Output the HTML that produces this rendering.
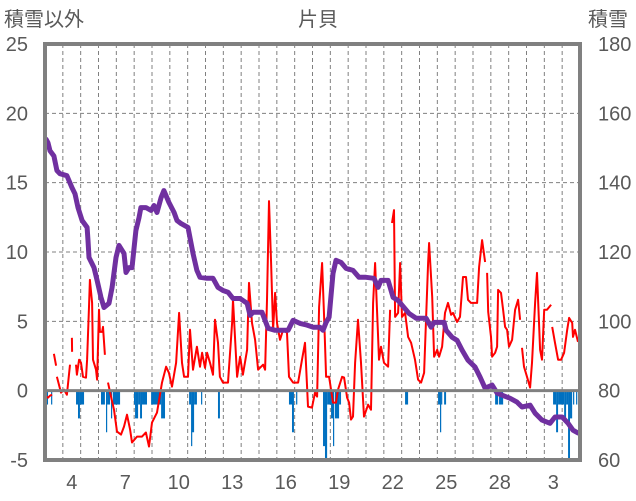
<!DOCTYPE html>
<html><head><meta charset="utf-8">
<style>
html,body{margin:0;padding:0;background:#fff;}
svg{display:block;font-family:"Liberation Sans","Noto Sans CJK JP",sans-serif;}
</style></head>
<body>
<svg id="chart" width="636" height="501" viewBox="0 0 636 501">
<text x="4" y="26" font-size="20" fill="#595959">積雪以外</text>
<text x="318" y="26" font-size="20" fill="#595959" text-anchor="middle">片貝</text>
<text x="588" y="26" font-size="20" fill="#595959">積雪</text>
<g id="grid"></g>
<g id="bars"></g>
<g id="lines"></g>
<g id="frame"></g>
<g id="ticks"></g>
</svg>
<script>
// ---- data ----
const leftTicks = [25,20,15,10,5,0,-5];
const rightTicks = [180,160,140,120,100,80,60];
const xTickLabels = ["4","7","10","13","16","19","22","25","28","3"];
const xTickDays = [1.5,4.5,7.5,10.5,13.5,16.5,19.5,22.5,25.5,28.5];
// temperature (left axis): time in days since start, value; null = gap
const tempT = [0.06,0.17,0.28,0.39,null,0.5,0.62,null,0.67,0.9,1.07,1.23,1.4,null,1.51,1.52,null,
1.74,1.79,1.91,2.02,2.13,2.3,2.36,2.47,2.52,2.64,2.69,2.86,2.92,3.03,3.08,3.2,3.25,3.36,null,
3.53,3.7,3.87,4.04,4.26,4.43,4.6,4.77,4.88,5.16,5.44,5.66,5.83,6.0,6.28,6.56,6.79,6.95,7.12,7.35,7.52,7.68,7.8,8.02,8.13,8.3,8.52,8.69,8.81,8.97,9.09,9.25,9.42,9.53,9.7,9.81,9.98,10.26,10.49,10.54,10.77,10.94,11.1,11.33,11.44,11.61,11.78,11.95,12.23,12.34,12.45,12.56,12.68,12.79,12.9,13.01,13.18,13.35,13.57,13.68,13.91,14.19,14.41,14.58,14.75,14.97,15.14,15.26,15.37,15.54,15.65,15.76,15.93,16.15,16.32,16.43,16.66,16.77,16.94,17.05,17.16,17.27,17.39,17.55,17.72,17.89,18.12,18.28,18.4,18.51,18.68,18.73,18.84,19.01,19.24,19.35,null,
19.46,19.57,19.63,19.8,19.91,20.02,20.19,20.36,20.53,20.75,20.92,21.09,21.26,21.48,21.54,21.71,21.82,21.99,22.1,22.27,22.43,22.6,22.77,22.88,23.11,23.27,23.44,23.61,23.72,23.89,24.06,24.23,24.34,24.51,24.68,null,
24.79,24.85,25.01,25.07,25.24,25.35,25.41,25.57,25.69,25.8,25.91,26.02,26.19,26.36,26.53,26.64,null,
26.75,26.86,27.03,27.2,27.31,27.48,27.59,27.76,27.87,27.99,28.15,28.38,null,
28.44,28.6,28.77,28.94,29.11,29.28,29.39,29.56,29.61,29.72,29.89];
const tempV = [-0.43,-0.5,-0.36,-0.29,null,2.66,1.8,null,1.0,-0.14,0.07,-0.29,1.87,null,3.81,2.8,null,
1.87,1.15,2.23,2.01,1.0,0.94,2.23,6.04,7.99,6.33,2.23,1.51,0.79,5.83,4.24,4.24,4.6,2.59,null,
0.58,-0.43,-1.37,-2.95,-3.17,-2.59,-1.73,-2.81,-3.74,-3.31,-3.31,-3.02,-4.03,-2.3,-1.58,0.58,1.73,1.29,0.29,2.01,5.61,2.01,1.0,1.0,4.39,1.51,3.17,1.73,2.73,1.65,2.73,2.01,1.15,5.11,3.45,1.0,0.58,0.58,4.89,6.55,1.0,2.45,1.15,2.95,7.77,4.89,3.67,1.51,1.87,1.51,6.55,13.67,9.21,4.39,7.05,4.89,3.67,4.39,4.17,1.0,0.58,0.58,2.23,3.45,-1.15,-1.22,-0.14,-0.43,6.04,9.21,5.32,1.0,1.0,-0.86,-0.86,0.07,1.0,0.94,-0.5,-0.86,-2.09,-1.87,2.01,5.11,2.01,-1.87,-1.01,-1.37,6.33,9.21,3.88,2.23,3.17,2.01,1.73,5.83,null,
12.09,13.02,5.32,5.61,9.21,5.32,5.61,3.88,3.45,2.23,0.79,0.58,1.29,9.21,10.65,6.76,2.45,2.95,2.45,3.17,5.61,6.33,5.47,5.61,4.96,5.32,8.2,8.2,6.55,6.33,6.33,6.33,8.92,10.86,9.28,null,
8.49,5.68,3.88,2.45,2.73,3.17,7.27,7.05,5.83,4.6,4.39,3.17,3.67,5.83,6.55,5.11,null,
3.09,1.73,1.0,0.22,2.01,6.33,8.49,2.95,2.23,5.83,5.83,6.19,null,
4.6,3.45,2.23,2.23,2.73,4.39,5.25,4.89,3.88,4.39,3.52];
// snow depth (right axis)
const snowT = [0.06,0.17,0.28,0.5,0.67,0.84,1.23,1.51,1.68,1.85,2.08,2.36,2.41,2.47,2.75,2.92,3.14,3.31,3.59,3.76,3.98,4.15,4.43,4.54,4.71,4.88,5.1,5.27,5.38,5.66,5.95,6.11,6.28,6.51,6.67,6.95,7.24,7.4,7.63,8.02,8.3,8.52,8.69,9.09,9.42,9.7,9.98,10.26,10.54,10.94,11.33,11.5,11.67,12.17,12.51,12.9,13.63,13.91,14.3,14.69,15.03,15.42,15.59,15.76,15.93,16.15,16.32,16.6,16.88,17.27,17.61,18.0,18.45,18.68,18.84,19.24,19.52,19.8,20.13,20.41,20.81,21.37,21.65,21.82,22.38,22.49,22.83,23.11,23.39,23.72,24.12,24.4,24.68,25.07,25.35,25.63,26.08,26.47,26.75,27.2,27.48,27.87,28.32,28.6,29.0,29.33,29.61,29.89];
const snowV = [152.5,151.5,149.2,147.7,143.5,142.6,142.0,138.6,136.8,132.8,129.1,127.1,123.3,118.4,115.5,111.8,106.9,104.0,105.2,109.8,118.4,121.9,119.6,114.1,115.5,115.5,126.2,129.9,132.8,132.8,132.0,133.4,131.4,135.7,137.7,134.3,131.4,129.1,128.2,127.1,119.6,114.7,112.7,112.4,112.4,109.8,108.9,108.4,106.6,106.6,105.2,101.7,102.6,102.6,98.0,97.4,97.4,100.3,99.4,98.9,98.3,98.3,97.4,99.7,101.2,113.8,117.6,117.0,115.3,114.7,112.7,112.7,112.4,109.8,111.8,111.8,106.9,106.0,104.0,102.3,100.9,100.9,98.3,99.7,99.7,97.4,95.4,94.5,91.7,88.8,86.8,83.9,80.7,81.6,79.3,78.7,77.8,76.7,75.3,75.8,73.5,71.5,70.6,72.4,72.4,70.6,68.6,67.8];
// precipitation bars (left axis, negative): start day, end day, value
const barStart = [0.06,0.34,1.74,1.85,1.96,3.14,3.42,3.48,3.7,3.81,4.99,5.05,5.22,5.33,5.44,5.95,6.28,6.51,8.08,8.19,8.24,8.36,8.75,9.7,13.68,13.85,14.08,15.59,15.7,15.82,16.04,16.15,16.26,16.49,20.19,22.04,22.15,22.21,22.38,25.24,25.46,28.49,28.66,28.77,29.11,29.22,29.33,29.44,29.61,29.78];
const barEnd = [0.17,0.39,1.85,1.96,2.19,3.36,3.48,3.65,3.76,4.21,5.05,5.22,5.33,5.44,5.72,6.28,6.51,6.73,8.19,8.24,8.36,8.52,8.81,9.81,13.85,13.96,14.13,15.7,15.82,16.04,16.15,16.21,16.49,16.6,20.36,22.15,22.21,22.27,22.49,25.41,25.69,28.66,28.77,29.11,29.22,29.33,29.44,29.56,29.67,29.84];
const barV = [-1,-1,-1,-2,-1,-1,-3,-1,-2,-1,-1,-2,-1,-2,-1,-1,-1,-2,-1,-4,-3,-1,-1,-2,-1,-3,-1,-4,-5,-1,-2,-4,-2,-1,-1,-1,-3,-1,-1,-1,-1,-1,-3,-1,-2,-1,-5,-2,-1,-1];

// ---- scales ----
const X0=45, X1=580, TMAX=30;
const PT=44, PB=460;
function xs(t){return X0+t*(X1-X0)/TMAX;}
function yl(v){return PB-(v+5)*(PB-PT)/30;}
function yr(v){return PB-(v-60)*(PB-PT)/120;}
const NS="http://www.w3.org/2000/svg";
function mk(tag,attrs,parent){const e=document.createElementNS(NS,tag);for(const k in attrs)e.setAttribute(k,attrs[k]);parent.appendChild(e);return e;}
const grid=document.getElementById('grid'), bars=document.getElementById('bars'), lines=document.getElementById('lines'), frame=document.getElementById('frame'), ticks=document.getElementById('ticks');

// gridlines
[20,15,10,5].forEach(v=>{
  const l=mk('line',{x1:45,x2:580,y1:yl(v),y2:yl(v),stroke:'#808080','stroke-width':1,'stroke-dasharray':'4,3'},grid);
  
  
});
for(let d=1;d<TMAX;d++){
  const l=mk('line',{x1:xs(d),x2:xs(d),y1:PT,y2:PB,stroke:'#808080','stroke-width':1,'stroke-dasharray':'4,3'},grid);
  
  
}
// bars
for(let i=0;i<barV.length;i++){
  const x=xs(barStart[i]), w=Math.max(1.2,xs(barEnd[i])-x);
  const r=mk('rect',{x:x,y:yl(0),width:w,height:yl(barV[i])-yl(0),fill:'#0070c0'},bars);
  
  
}
// line path builder
function pathFrom(T,V,yf){let d='',pen=false;for(let i=0;i<T.length;i++){if(T[i]===null||V[i]===null){pen=false;continue;}d+=(pen?'L':'M')+xs(T[i]).toFixed(1)+','+yf(V[i]).toFixed(1);pen=true;}return d;}
const tp=mk('path',{d:pathFrom(tempT,tempV,yl),fill:'none',stroke:'#ff0000','stroke-width':2,'stroke-linejoin':'round'},lines);


const sp=mk('path',{d:pathFrom(snowT,snowV,yr),fill:'none',stroke:'#7030a0','stroke-width':5,'stroke-linejoin':'round','stroke-linecap':'round'},lines);



// frame
const fr=mk('rect',{x:45,y:44,width:535,height:416,fill:'none',stroke:'#808080','stroke-width':4},frame);


const zl=mk('line',{x1:45,x2:580,y1:yl(0),y2:yl(0),stroke:'#808080','stroke-width':3},frame);



// ticks
leftTicks.forEach(v=>{
  const t=mk('text',{x:28,y:yl(v)+7,'font-size':20,fill:'#595959','text-anchor':'end'},ticks);
  t.textContent=String(v);
  
  
});
rightTicks.forEach(v=>{
  const t=mk('text',{x:598,y:yr(v)+7,'font-size':20,fill:'#595959'},ticks);
  t.textContent=String(v);
  
  
});
xTickLabels.forEach((s,i)=>{
  const t=mk('text',{x:xs(xTickDays[i]),y:489,'font-size':20,fill:'#595959','text-anchor':'middle'},ticks);
  t.textContent=s;
  
  
});
</script>
</body></html>
